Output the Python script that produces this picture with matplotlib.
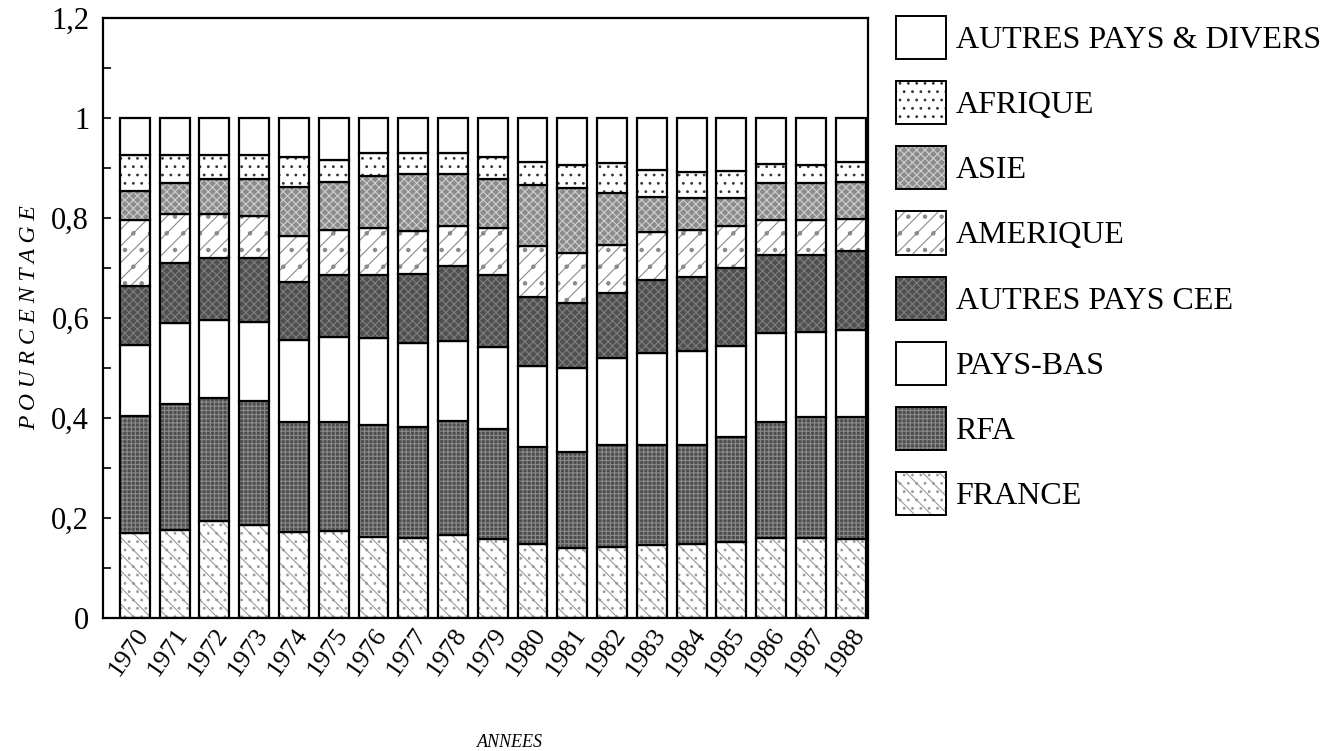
import matplotlib
matplotlib.use("Agg")
import matplotlib.pyplot as plt
import numpy as np
from matplotlib.patches import Patch
from matplotlib.ticker import FuncFormatter, MultipleLocator
from matplotlib.legend_handler import HandlerTuple

plt.rcParams['font.family'] = ['Liberation Serif', 'DejaVu Serif']
plt.rcParams['hatch.linewidth'] = 0.8

annees = ['1970', '1971', '1972', '1973', '1974', '1975', '1976', '1977', '1978', '1979',
          '1980', '1981', '1982', '1983', '1984', '1985', '1986', '1987', '1988']

# cumulative tops of each band
top_france = [0.170, 0.176, 0.194, 0.186, 0.172, 0.174, 0.163, 0.161, 0.166, 0.158,
              0.148, 0.140, 0.143, 0.146, 0.148, 0.153, 0.161, 0.160, 0.158]
top_rfa = [0.404, 0.428, 0.440, 0.435, 0.393, 0.393, 0.386, 0.383, 0.395, 0.378,
           0.343, 0.333, 0.346, 0.346, 0.346, 0.363, 0.393, 0.403, 0.403]
top_paysbas = [0.546, 0.590, 0.596, 0.593, 0.556, 0.562, 0.560, 0.550, 0.555, 0.543,
               0.504, 0.500, 0.520, 0.530, 0.535, 0.544, 0.570, 0.572, 0.576]
top_cee = [0.664, 0.710, 0.720, 0.720, 0.673, 0.686, 0.686, 0.688, 0.705, 0.686,
           0.643, 0.630, 0.650, 0.676, 0.683, 0.700, 0.726, 0.726, 0.735]
top_amerique = [0.796, 0.808, 0.808, 0.804, 0.765, 0.776, 0.780, 0.774, 0.784, 0.780,
                0.745, 0.730, 0.746, 0.773, 0.776, 0.784, 0.796, 0.796, 0.798]
top_asie = [0.855, 0.870, 0.878, 0.878, 0.863, 0.873, 0.884, 0.888, 0.888, 0.878,
            0.866, 0.860, 0.850, 0.843, 0.840, 0.841, 0.870, 0.870, 0.873]
top_afrique = [0.926, 0.926, 0.926, 0.926, 0.922, 0.916, 0.930, 0.931, 0.930, 0.923,
               0.912, 0.906, 0.910, 0.896, 0.893, 0.895, 0.908, 0.906, 0.912]
top_autres = [1.0] * 19

series = ['FRANCE', 'RFA', 'PAYS-BAS', 'AUTRES PAYS CEE', 'AMERIQUE', 'ASIE', 'AFRIQUE',
          'AUTRES PAYS & DIVERS']
tops = [top_france, top_rfa, top_paysbas, top_cee, top_amerique, top_asie, top_afrique, top_autres]

# (facecolor, hatch colour, hatch)
styles = [
    ('white', '#9a9a9a', '\\\\..'),
    ('#4d4d4d', '#8a8a8a', '++++'),
    ('white', 'white', ''),
    ('#505050', '#808080', 'xxxx'),
    ('white', '#8a8a8a', '//.'),
    ('#8c8c8c', '#d0d0d0', 'xxxx'),
    ('white', '#333333', '..'),
    ('white', 'white', ''),
]

fig = plt.figure(figsize=(13.35, 7.51), dpi=100)
ax = fig.add_axes([0.0772, 0.177, 0.5728, 0.799])

x = np.arange(len(annees))
largeur = 0.75
bas = np.zeros(len(annees))
handles = []
for nom, haut, (fc, hc, hatch) in zip(series, tops, styles):
    haut = np.array(haut)
    h = haut - bas
    ax.bar(x, h, largeur, bottom=bas, color=fc, edgecolor=hc, hatch=hatch, linewidth=0)
    ax.bar(x, h, largeur, bottom=bas, facecolor='none', edgecolor='black', linewidth=1.6)
    handles.append(Patch(facecolor=fc, edgecolor=hc, hatch=hatch, linewidth=0))
    bas = haut

ax.set_xlim(-0.8, 18.43)
ax.set_ylim(0, 1.2)
ax.yaxis.set_major_locator(MultipleLocator(0.2))
ax.yaxis.set_minor_locator(MultipleLocator(0.1))
ax.yaxis.set_major_formatter(FuncFormatter(lambda v, p: ('%g' % round(v, 1)).replace('.', ',')))
ax.tick_params(axis='y', which='both', direction='in', length=6, width=1.2, labelsize=22, pad=10)
ax.tick_params(axis='x', length=0, labelsize=19, pad=4)
ax.set_xticks(x)
ax.set_xticklabels(annees, rotation=55, ha='right', va='top', rotation_mode='anchor')
for s in ax.spines.values():
    s.set_linewidth(1.6)

ax.set_ylabel('P O U R C E N T A G E', fontsize=17, style='italic', labelpad=8)
fig.text(0.382, 0.0, 'ANNEES', fontsize=13, style='italic', ha='center', va='bottom')

# legend, reversed order (top = AUTRES PAYS & DIVERS)
outline = Patch(facecolor='none', edgecolor='black', linewidth=1.4)
leg_handles = [(hd, outline) for hd in handles][::-1]
leg = fig.legend(leg_handles, series[::-1], loc='upper left', bbox_to_anchor=(0.6497, 1.017),
                 frameon=False, fontsize=23, handlelength=1.56, handleheight=1.70,
                 labelspacing=0.69, handletextpad=0.3,
                 handler_map={tuple: HandlerTuple(ndivide=1)})

fig.savefig('out.png', dpi=100)
